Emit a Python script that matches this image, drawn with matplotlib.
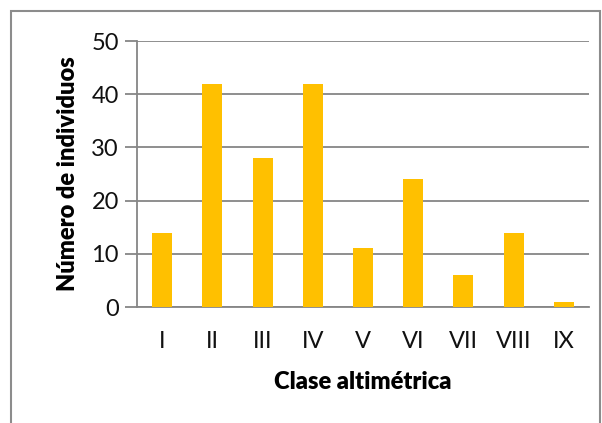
import matplotlib
matplotlib.use("Agg")
import matplotlib.pyplot as plt
from matplotlib.patches import Rectangle

clases = ["I", "II", "III", "IV", "V", "VI", "VII", "VIII", "IX"]
individuos = [14, 42, 28, 42, 11, 24, 6, 14, 1]
y_ticks = [0, 10, 20, 30, 40, 50]

plt.rcParams['font.family'] = ['Lato', 'DejaVu Sans']

W, H = 602, 423
dpi = 100
fig = plt.figure(figsize=(W / dpi, H / dpi), dpi=dpi, facecolor='w')

# plot area in pixels: x 137..589, y 41..307
ax = fig.add_axes([137 / W, 1 - 307 / H, (589 - 137) / W, (307 - 41) / H])

grid_c = '#868686'
x = range(len(clases))
ax.bar(x, individuos, width=0.4, color='#FFC000', zorder=3)

ax.set_xlim(-0.5, len(clases) - 0.5)
ax.set_ylim(0, 50)
ax.set_yticks(y_ticks)
ax.set_xticks(list(x))
ax.set_xticklabels(clases)
ax.yaxis.grid(True, color=grid_c, lw=1.3, zorder=0)

for s in ['top', 'right']:
    ax.spines[s].set_visible(False)
ax.spines['left'].set_color(grid_c)
ax.spines['bottom'].set_color(grid_c)
ax.spines['left'].set_linewidth(1.3)
ax.spines['bottom'].set_linewidth(1.3)

ax.tick_params(axis='y', length=9, color=grid_c, width=1.3, labelsize=17,
               pad=4, labelcolor='#111111')
ax.tick_params(axis='x', length=0, labelsize=17, pad=17, labelcolor='#111111')

ax.set_ylabel('Número de individuos', fontsize=17, fontweight='heavy',
              labelpad=9)
ax.set_xlabel('Clase altimétrica', fontsize=17, fontweight='heavy',
              labelpad=14)

# outer chart border
fig.patches.append(Rectangle((11 / W, -0.05), (600 - 11) / W, 1.05 - 11 / H,
                             transform=fig.transFigure, fill=False,
                             ec='#8c8c8c', lw=1.5))

fig.savefig('out.png', dpi=dpi)
